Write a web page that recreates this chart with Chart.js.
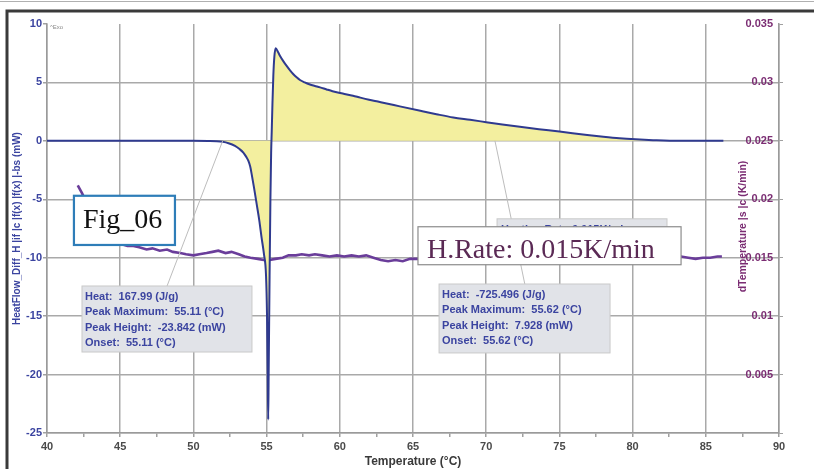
<!DOCTYPE html>
<html>
<head>
<meta charset="utf-8">
<title>DSC run</title>
<script src="https://cdn.jsdelivr.net/npm/chart.js@4"></script>
<style>
  html, body { margin: 0; padding: 0; background: #fff; }
  canvas { display: block; }
</style>
</head>
<body>
<canvas id="dscChart" width="814" height="469"></canvas>
<script>
// heat flow (mW) against temperature (°C)
const hfTemp = [40, 44, 48, 50, 51, 51.6, 52.0, 52.4, 52.84, 53.15, 53.41, 53.6, 53.75, 53.88, 53.98,
  54.14, 54.32, 54.5, 54.66, 54.82, 54.96, 55.03, 55.08, 55.11, 55.14, 55.2, 55.26, 55.31, 55.35,
  55.4, 55.46, 55.53, 55.62, 55.78, 55.92, 56.15, 56.37, 56.6, 56.83, 57.05, 57.28, 57.6, 57.96,
  58.3, 58.65, 59.1, 59.5, 60.2, 60.9, 61.4, 62.0, 62.6, 63.2, 64.1, 65.5, 66.6, 67.75, 68.9, 70.0,
  71.1, 72.3, 73.6, 75.0, 76.9, 78.0, 79.1, 80.2, 81.4, 83.2, 86.2];
const hfValues = [0, 0, 0, 0, -0.01, -0.03, -0.08, -0.2, -0.43, -0.7, -1.0, -1.35, -1.7, -2.2, -2.85,
  -4.0, -5.4, -6.8, -8.3, -9.7, -11.5, -15, -20, -23.842, -20, -12, -5, -1, 0.8,
  3.2, 5.6, 7.2, 7.928, 7.6, 7.26, 6.8, 6.41, 6.03, 5.70, 5.44, 5.21, 5.0, 4.82,
  4.7, 4.58, 4.4, 4.25, 4.05, 3.86, 3.7, 3.52, 3.36, 3.2, 2.95, 2.57, 2.28, 2.0, 1.8, 1.6,
  1.4, 1.2, 1.0, 0.8, 0.5, 0.35, 0.22, 0.13, 0.06, 0.0, 0.0];

// heating rate (K/min) against temperature (°C)
const dtTemp = [42.1, 42.4, 42.8, 43.2, 43.6, 44.0, 44.5, 45.0, 45.5, 45.9, 46.3, 46.8, 47.2, 47.7,
  48.2, 48.6, 49.1, 49.5, 50.0, 50.4, 50.9, 51.3, 51.7, 52.2, 52.6, 53.1, 53.5, 53.9, 54.4, 54.8,
  55.2, 55.6, 56.1, 56.5, 57.0, 57.4, 57.9, 58.3, 58.8, 59.3, 59.8, 60.3, 60.8, 61.3, 61.8, 62.3,
  62.8, 63.3, 63.8, 64.3, 64.8, 65.3, 66, 68, 70, 72, 74, 76, 78, 80, 82, 83.3, 83.8, 84.3, 84.8,
  85.3, 85.8, 86.1];
const dtValues = [0.0212, 0.0205, 0.0194, 0.0183, 0.0175, 0.0169, 0.0165, 0.0162, 0.0160, 0.0160,
  0.0159, 0.0157, 0.0158, 0.0156, 0.0157, 0.0155, 0.0154, 0.0153, 0.0152, 0.0153, 0.0154, 0.0155,
  0.0156, 0.0154, 0.0155, 0.0153, 0.0151, 0.0150, 0.0149, 0.0148, 0.0148, 0.0149, 0.0150, 0.0152,
  0.0152, 0.0153, 0.0152, 0.0153, 0.0152, 0.0151, 0.0152, 0.0151, 0.0152, 0.0151, 0.0152, 0.0150,
  0.0148, 0.0147, 0.0148, 0.0147, 0.0149, 0.0149, 0.0150, 0.0149, 0.0150, 0.0150, 0.0151, 0.0150,
  0.0150, 0.0150, 0.0151, 0.0151, 0.0150, 0.0149, 0.0150, 0.0150, 0.0151, 0.0151];

const tempTicks = { min: 40, max: 90, step: 5 };
const heatTicks = { min: -25, max: 10, step: 5 };
const rateTicks = { min: 0, max: 0.035, step: 0.005 };

// peak evaluations
const endoNote = ["Heat:  167.99 (J/g)", "Peak Maximum:  55.11 (°C)", "Peak Height:  -23.842 (mW)", "Onset:  55.11 (°C)"];
const exoNote = ["Heat:  -725.496 (J/g)", "Peak Maximum:  55.62 (°C)", "Peak Height:  7.928 (mW)", "Onset:  55.62 (°C)"];

const SANS = "'Liberation Sans', Arial, sans-serif";
const SERIF = "'Liberation Serif', 'Times New Roman', serif";
const BLUE_TXT = "#3b44a0";
const PURPLE_TXT = "#7b2d73";

Chart.defaults.font.family = SANS;

function pts(xs, ys) {
  return xs.map((t, i) => ({ x: t, y: ys[i] }));
}

const framePlugin = {
  id: "frame",
  beforeDraw(chart) {
    const ctx = chart.ctx;
    ctx.save();
    ctx.fillStyle = "#fff";
    ctx.fillRect(0, 0, chart.width, chart.height);
    ctx.strokeStyle = "#b0b0b0";
    ctx.lineWidth = 1;
    ctx.beginPath();
    ctx.moveTo(0, 1.5);
    ctx.lineTo(chart.width, 1.5);
    ctx.stroke();
    ctx.strokeStyle = "#3a3a3a";
    ctx.lineWidth = 3;
    ctx.beginPath();
    ctx.moveTo(chart.width, 11);
    ctx.lineTo(7, 11);
    ctx.lineTo(7, chart.height);
    ctx.stroke();
    ctx.restore();
  }
};

function box(ctx, x0, y0, x1, y1, fill, stroke, lw) {
  ctx.fillStyle = fill;
  ctx.fillRect(x0, y0, x1 - x0, y1 - y0);
  ctx.strokeStyle = stroke;
  ctx.lineWidth = lw;
  ctx.strokeRect(x0, y0, x1 - x0, y1 - y0);
}

const notesPlugin = {
  id: "notes",
  afterDatasetsDraw(chart) {
    const { ctx, scales: { x, y } } = chart;
    const px = v => x.getPixelForValue(v);
    const py = v => y.getPixelForValue(v);
    ctx.save();

    ctx.fillStyle = "#8a8a8a";
    ctx.font = "6px " + SANS;
    ctx.textBaseline = "middle";
    ctx.fillText("^Exo", px(40.2), py(9.7));

    // leader lines to the evaluated peaks
    ctx.strokeStyle = "#bdbdbd";
    ctx.lineWidth = 1;
    ctx.beginPath();
    ctx.moveTo(px(52.0), py(0));
    ctx.lineTo(px(48.2), py(-12.42));
    ctx.moveTo(px(70.6), py(0));
    ctx.lineTo(px(72.65), py(-12.33));
    ctx.stroke();

    // evaluation boxes
    const drawNote = (lines, t0, t1, v0, v1) => {
      const x0 = px(t0), x1 = px(t1), y0 = py(v0), y1 = py(v1);
      box(ctx, x0, y0, x1, y1, "#e1e3e8", "#c9c9c9", 1);
      ctx.fillStyle = BLUE_TXT;
      ctx.font = "bold 11px " + SANS;
      ctx.textAlign = "left";
      ctx.textBaseline = "middle";
      lines.forEach((s, i) => ctx.fillText(s, x0 + 3, y0 + 10.5 + i * 15.5));
    };
    drawNote(endoNote, 42.39, 54.0, -12.42, -18.07);
    drawNote(exoNote, 66.78, 78.46, -12.25, -18.15);

    // heating rate label, partly covered
    const hx0 = px(70.74), hx1 = px(82.35), hy0 = py(-6.67), hy1 = py(-8.6);
    box(ctx, hx0, hy0, hx1, hy1, "#e1e3e8", "#c9c9c9", 1);
    ctx.fillStyle = BLUE_TXT;
    ctx.font = "bold 11px " + SANS;
    ctx.fillText("Heating Rate:0.015K/min", hx0 + 4, hy0 + 11);

    const rx0 = px(65.34), rx1 = px(83.31), ry0 = py(-7.35), ry1 = py(-10.6);
    box(ctx, rx0, ry0, rx1, ry1, "#ffffff", "#8c8c8c", 1.2);
    ctx.fillStyle = "#5b2a55";
    ctx.font = "28px " + SERIF;
    ctx.textBaseline = "alphabetic";
    ctx.fillText("H.Rate: 0.015K/min", rx0 + 9, ry0 + 31);

    const fx0 = px(41.84), fx1 = px(48.74), fy0 = py(-4.70), fy1 = py(-8.91);
    box(ctx, fx0, fy0, fx1, fy1, "#ffffff", "#2e7db8", 2.2);
    ctx.fillStyle = "#111";
    ctx.font = "28px " + SERIF;
    ctx.fillText("Fig_06", fx0 + 9, fy0 + 32);

    // right axis title sits inside the plot
    ctx.translate(chart.chartArea.right - 36, (chart.chartArea.top + chart.chartArea.bottom) / 2 - 2);
    ctx.rotate(-Math.PI / 2);
    ctx.fillStyle = PURPLE_TXT;
    ctx.font = "bold 10.5px " + SANS;
    ctx.textAlign = "center";
    ctx.textBaseline = "middle";
    ctx.fillText("dTemperature |s |c (K/min)", 0, 0);
    ctx.restore();
  }
};

new Chart(document.getElementById("dscChart"), {
  type: "line",
  data: {
    datasets: [{
      label: "HeatFlow",
      data: pts(hfTemp, hfValues),
      yAxisID: "y",
      borderColor: "#2f3a8f",
      borderWidth: 2,
      pointRadius: 0,
      cubicInterpolationMode: "monotone",
      fill: "origin",
      backgroundColor: "#f3ef9f"
    }, {
      label: "dTemperature",
      data: pts(dtTemp, dtValues),
      yAxisID: "y1",
      borderColor: "#6a3d9a",
      borderWidth: 2.6,
      pointRadius: 0,
      tension: 0,
      fill: false
    }]
  },
  options: {
    responsive: false,
    animation: false,
    devicePixelRatio: 1,
    layout: { padding: { top: 24, left: 0, right: 0, bottom: 0 } },
    plugins: {
      legend: { display: false },
      tooltip: { enabled: false }
    },
    scales: {
      x: {
        type: "linear",
        position: "bottom",
        min: tempTicks.min,
        max: tempTicks.max,
        ticks: {
          stepSize: tempTicks.step / 2,
          autoSkip: false,
          maxRotation: 0,
          padding: 3,
          color: "#4a4a4a",
          font: { size: 11, weight: "bold" },
          callback: v => (v % tempTicks.step === 0 ? v : "")
        },
        grid: {
          color: c => (c.tick && c.tick.value % tempTicks.step === 0 ? "#a9a9a9" : "transparent"),
          tickColor: "#a0a0a0",
          lineWidth: 1.5,
          tickLength: 4
        },
        border: { color: "#9a9a9a", width: 1.5 },
        title: {
          display: true,
          text: "Temperature (°C)",
          color: "#3a3a3a",
          font: { size: 12, weight: "bold" },
          padding: { top: 5, bottom: 0 }
        },
        afterFit: s => { s.height = 36; }
      },
      y: {
        position: "left",
        min: heatTicks.min,
        max: heatTicks.max,
        ticks: {
          stepSize: heatTicks.step,
          padding: 1,
          color: BLUE_TXT,
          font: { size: 11, weight: "bold" }
        },
        grid: {
          color: c => (c.tick && c.tick.value === heatTicks.max ? "transparent" : "#a9a9a9"),
          tickColor: "#a0a0a0",
          lineWidth: 1.5,
          tickLength: 4
        },
        border: { color: "#9a9a9a", width: 1.5 },
        title: {
          display: true,
          text: "HeatFlow_Diff_H |if |c |f(x) |f(x) |-bs (mW)",
          color: BLUE_TXT,
          font: { size: 10, weight: "bold" },
          padding: { top: 11, bottom: 0 }
        },
        afterFit: s => { s.width = 47; }
      },
      y1: {
        position: "right",
        min: rateTicks.min,
        max: rateTicks.max,
        ticks: {
          stepSize: rateTicks.step,
          autoSkip: false,
          mirror: true,
          padding: -6,
          color: PURPLE_TXT,
          font: { size: 11, weight: "bold" },
          callback: v => (v === 0 ? "" : +v.toFixed(3))
        },
        grid: { drawOnChartArea: false, tickColor: "#a0a0a0", tickLength: 4 },
        border: { color: "#9a9a9a", width: 1.5 },
        afterFit: s => { s.width = 35; }
      }
    }
  },
  plugins: [framePlugin, notesPlugin]
});
</script>
</body>
</html>
